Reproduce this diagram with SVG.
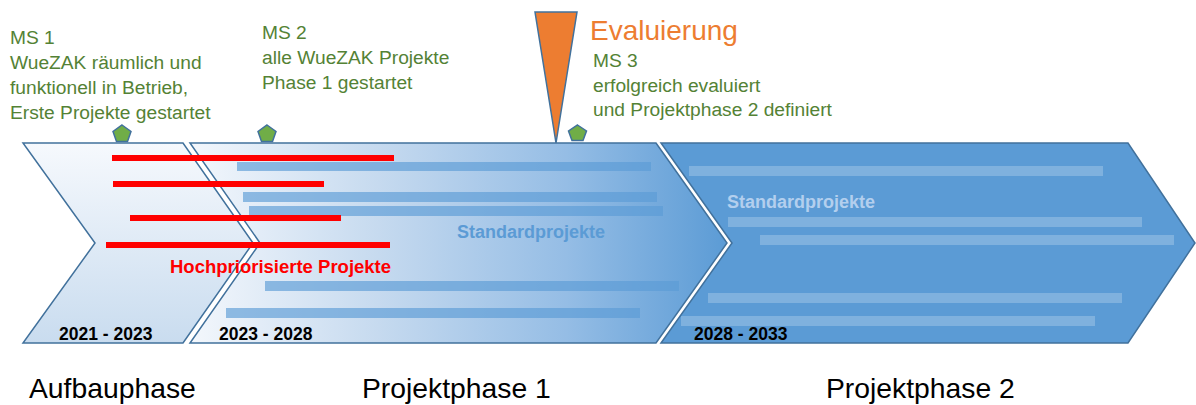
<svg xmlns="http://www.w3.org/2000/svg" width="1196" height="405" viewBox="0 0 1196 405">
  <defs>
    <linearGradient id="gradAufbau" x1="0" y1="0" x2="0" y2="1">
      <stop offset="0" stop-color="#f6f9fd"/>
      <stop offset="1" stop-color="#c9dcef"/>
    </linearGradient>
    <linearGradient id="gradPhase1" x1="190" y1="0" x2="728" y2="0" gradientUnits="userSpaceOnUse">
      <stop offset="0" stop-color="#f3f7fc"/>
      <stop offset="0.35" stop-color="#c6daef"/>
      <stop offset="0.7" stop-color="#95bde5"/>
      <stop offset="1" stop-color="#5b9bd5"/>
    </linearGradient>
    <style>
      .chev { stroke: #41719c; stroke-width: 1.5; stroke-linejoin: miter; }
      .ms { fill: #548235; font-family: "Liberation Sans", Arial, sans-serif; font-size: 19.2px; }
      .year { fill: #000; font-family: "Liberation Sans", Arial, sans-serif; font-size: 17.5px; font-weight: bold; }
      .phase { fill: #000; font-family: "Liberation Sans", Arial, sans-serif; font-size: 28.3px; }
      .std { font-family: "Liberation Sans", Arial, sans-serif; font-size: 18px; font-weight: bold; }
      .bar1 { fill: #5b9bd5; fill-opacity: 0.65; }
      .bar2 { fill: #ffffff; fill-opacity: 0.22; }
      .prio { fill: #ff0000; }
      .ms-mark { fill: #70ad47; stroke: #41719c; stroke-width: 1.5; }
    </style>
  </defs>

  <!-- Phase chevrons -->
  <g id="aufbauphase">
    <polygon class="chev" fill="url(#gradAufbau)" points="23,143 183,143 253,243 183,343 23,343 95,243"/>
  </g>
  <g id="projektphase1">
    <polygon class="chev" fill="url(#gradPhase1)" points="190,143 656,143 727,243 656,343 190,343 260,243"/>
    <rect class="bar1" x="237" y="162" width="414" height="9"/>
    <rect class="bar1" x="243" y="192" width="414" height="10"/>
    <rect class="bar1" x="249" y="206" width="414" height="10"/>
    <rect class="bar1" x="265" y="281" width="414" height="10"/>
    <rect class="bar1" x="226" y="308" width="414" height="10"/>
    <text class="std" x="457" y="238" fill="#5b9bd5">Standardprojekte</text>
  </g>
  <g id="projektphase2">
    <polygon class="chev" fill="#5b9bd5" points="661,143 1128,143 1195,243 1128,343 661,343 732,243"/>
    <rect class="bar2" x="689" y="166" width="414" height="10"/>
    <rect class="bar2" x="728" y="217" width="414" height="10"/>
    <rect class="bar2" x="760" y="235" width="414" height="10"/>
    <rect class="bar2" x="708" y="293" width="414" height="10"/>
    <rect class="bar2" x="681" y="316" width="414" height="10"/>
    <text class="std" x="727" y="208" fill="#b3cfee">Standardprojekte</text>
  </g>

  <!-- Priority projects -->
  <g id="hochpriorisiert">
    <rect class="prio" x="112" y="155" width="282" height="6"/>
    <rect class="prio" x="113" y="181" width="211" height="6"/>
    <rect class="prio" x="130" y="215" width="211" height="6"/>
    <rect class="prio" x="106" y="242" width="284" height="6"/>
    <text x="170" y="273" fill="#ff0000" font-family="'Liberation Sans', Arial, sans-serif" font-size="18.5" font-weight="bold">Hochpriorisierte Projekte</text>
  </g>

  <!-- Year ranges -->
  <g id="jahre">
    <text class="year" x="59" y="340">2021 - 2023</text>
    <text class="year" x="219" y="340">2023 - 2028</text>
    <text class="year" x="694" y="340">2028 - 2033</text>
  </g>

  <!-- Milestones -->
  <g id="ms1">
    <polygon class="ms-mark" points="122,125 131,131.5 127.5,141.5 116.5,141.5 113,131.5"/>
    <text class="ms" x="10" y="44">MS 1</text>
    <text class="ms" x="10" y="69">WueZAK räumlich und</text>
    <text class="ms" x="10" y="94">funktionell in Betrieb,</text>
    <text class="ms" x="10" y="119">Erste Projekte gestartet</text>
  </g>
  <g id="ms2">
    <polygon class="ms-mark" points="267,125 276,131.5 272.5,141.5 261.5,141.5 258,131.5"/>
    <text class="ms" x="262" y="39">MS 2</text>
    <text class="ms" x="262" y="64">alle WueZAK Projekte</text>
    <text class="ms" x="262" y="89">Phase 1 gestartet</text>
  </g>
  <g id="evaluierung">
    <polygon points="535,12 577,12 556,143" fill="#ed7d31" stroke="#41719c" stroke-width="1.5"/>
    <text x="590" y="40" fill="#ed7d31" font-family="'Liberation Sans', Arial, sans-serif" font-size="28">Evaluierung</text>
  </g>
  <g id="ms3">
    <polygon class="ms-mark" points="577.5,125 586.5,131 583,140.5 572,140.5 568.5,131"/>
    <text class="ms" x="593" y="67">MS 3</text>
    <text class="ms" x="593" y="91.5">erfolgreich evaluiert</text>
    <text class="ms" x="593" y="116">und Projektphase 2 definiert</text>
  </g>

  <!-- Phase names -->
  <g id="phasen">
    <text class="phase" x="29" y="398">Aufbauphase</text>
    <text class="phase" x="362" y="398">Projektphase 1</text>
    <text class="phase" x="826" y="398">Projektphase 2</text>
  </g>

  <g id="connectors"/>
</svg>
